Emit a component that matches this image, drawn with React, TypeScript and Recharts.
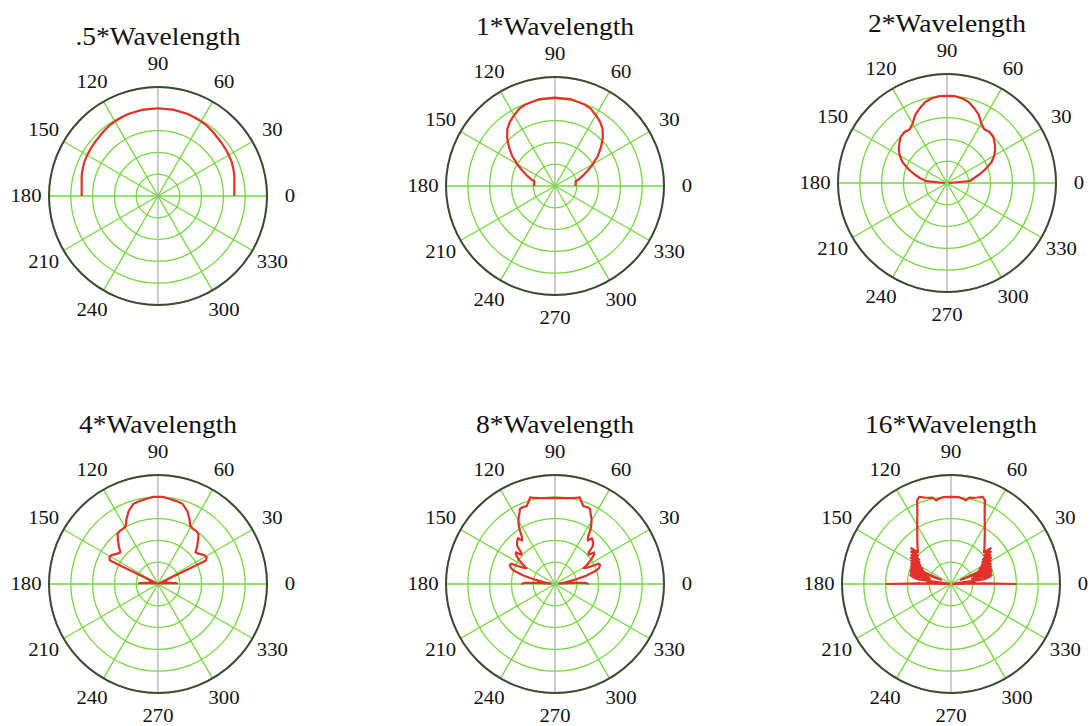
import { RadarChart, PolarGrid, PolarAngleAxis, PolarRadiusAxis, Radar } from 'recharts';

// angle ticks (degrees) and grid rings (fraction of full scale)
const angleTicks = [0, 30, 60, 90, 120, 150, 180, 210, 240, 270, 300, 330];
const gridAngles = [0, 30, 60, 120, 150, 180, 210, 240, 300, 330];
const axisAngles = [90, 270];
const radiusTicks = [0.2, 0.4, 0.6, 0.8, 1];

// [angle in degrees, relative field strength]
const wave05 = [
  [0, 0.70], [5, 0.703], [10, 0.711], [15, 0.725], [20, 0.735], [25, 0.745], [30, 0.75], [35, 0.755],
  [40, 0.76], [45, 0.765], [50, 0.775], [55, 0.785], [60, 0.79], [65, 0.795], [70, 0.8], [80, 0.805],
  [90, 0.805], [100, 0.805], [110, 0.8], [115, 0.795], [120, 0.79], [125, 0.785], [130, 0.775],
  [135, 0.765], [140, 0.76], [145, 0.755], [150, 0.75], [155, 0.745], [160, 0.735], [165, 0.725],
  [170, 0.711], [175, 0.703], [180, 0.70],
];

const wave1 = [
  [0, 0.19], [5, 0.19], [10, 0.192], [13, 0.195], [15, 0.22], [20, 0.27], [25, 0.33], [30, 0.4],
  [35, 0.48], [40, 0.55], [45, 0.62], [50, 0.68], [55, 0.72], [60, 0.75], [65, 0.78], [70, 0.795],
  [75, 0.8], [80, 0.81], [90, 0.81], [100, 0.81], [105, 0.8], [110, 0.795], [115, 0.78], [120, 0.75],
  [125, 0.72], [130, 0.68], [135, 0.62], [140, 0.55], [145, 0.48], [150, 0.4], [155, 0.33], [160, 0.27],
  [165, 0.22], [167, 0.195], [170, 0.192], [175, 0.19], [180, 0.19],
];

const wave2 = [
  [0, 0.02], [5, 0.21], [10, 0.25], [15, 0.31], [20, 0.38], [25, 0.45], [30, 0.5], [35, 0.54],
  [40, 0.57], [45, 0.6], [50, 0.61], [55, 0.6], [60, 0.63], [65, 0.69], [70, 0.73], [75, 0.77],
  [80, 0.79], [85, 0.8], [90, 0.8], [95, 0.8], [100, 0.79], [105, 0.77], [110, 0.73], [115, 0.69],
  [120, 0.63], [125, 0.6], [130, 0.61], [135, 0.6], [140, 0.57], [145, 0.54], [150, 0.5], [155, 0.45],
  [160, 0.38], [165, 0.31], [170, 0.25], [175, 0.19], [180, 0.02],
];

const wave4 = [
  [0, 0.18], [3, 0.17], [6, 0.1], [9, 0.03], [13, 0.07], [17, 0.08], [21, 0.05], [24, 0.01],
  [26, 0.49], [29, 0.51], [32, 0.5], [36, 0.47], [40, 0.45], [44, 0.5], [48, 0.55], [51, 0.59],
  [54, 0.6], [58, 0.6], [61, 0.61], [64, 0.66], [68, 0.72], [73, 0.77], [78, 0.78], [83, 0.79],
  [87, 0.8], [90, 0.8], [93, 0.8], [97, 0.79], [102, 0.78], [107, 0.77], [112, 0.72], [116, 0.66],
  [119, 0.61], [122, 0.6], [126, 0.6], [129, 0.59], [132, 0.55], [136, 0.5], [140, 0.45], [144, 0.47],
  [148, 0.5], [151, 0.51], [154, 0.49], [156, 0.01], [159, 0.05], [163, 0.08], [167, 0.07],
  [171, 0.03], [174, 0.1], [177, 0.17], [180, 0.18],
];

const wave8 = [
  [0, 0.31], [2, 0.28], [4, 0.15], [6, 0.04], [9, 0.1], [12, 0.18], [15, 0.3], [18, 0.4], [20, 0.43],
  [23, 0.45], [25, 0.44], [27, 0.33], [29, 0.3], [31, 0.34], [34, 0.4], [37, 0.45], [39, 0.46],
  [41, 0.41], [43, 0.42], [45, 0.49], [48, 0.52], [51, 0.54], [53, 0.5], [55, 0.53], [57, 0.6],
  [59, 0.65], [61, 0.69], [63, 0.72], [65, 0.76], [67, 0.765], [70, 0.76], [72, 0.79], [74, 0.826],
  [77, 0.81], [80, 0.8], [85, 0.79], [90, 0.79], [95, 0.79], [100, 0.8], [103, 0.81], [106, 0.826],
  [108, 0.79], [110, 0.76], [113, 0.765], [115, 0.76], [117, 0.72], [119, 0.69], [121, 0.65],
  [123, 0.6], [125, 0.53], [127, 0.5], [129, 0.54], [132, 0.52], [135, 0.49], [137, 0.42], [139, 0.41],
  [141, 0.46], [143, 0.45], [146, 0.4], [149, 0.34], [151, 0.3], [153, 0.33], [155, 0.44], [157, 0.45],
  [160, 0.43], [162, 0.4], [165, 0.3], [168, 0.18], [171, 0.1], [174, 0.04], [176, 0.15], [178, 0.28],
  [180, 0.31],
];

const wave16 = [
  [0, 0.6], [1, 0.3], [2, 0.02], [4, 0.22], [6, 0.03], [8, 0.3], [10, 0.35], [12, 0.38], [13.5, 0.2],
  [15, 0.38], [16.5, 0.22], [18, 0.39], [19.5, 0.25], [21, 0.39], [22.5, 0.1], [24, 0.4], [25.5, 0.28],
  [27, 0.41], [28.5, 0.3], [30, 0.42], [31.5, 0.33], [33, 0.44], [34.5, 0.35], [36, 0.45], [37.5, 0.37],
  [39, 0.47], [40.5, 0.4], [42, 0.49], [44, 0.42], [47, 0.45], [51, 0.49], [55, 0.54], [60, 0.62],
  [65, 0.73], [68, 0.83], [70, 0.85], [73, 0.83], [76, 0.815], [78, 0.81], [80, 0.78], [82, 0.79],
  [85, 0.8], [90, 0.8], [95, 0.8], [98, 0.79], [100, 0.78], [102, 0.81], [104, 0.815], [107, 0.83],
  [110, 0.85], [112, 0.83], [115, 0.73], [120, 0.62], [125, 0.54], [129, 0.49], [133, 0.45],
  [136, 0.42], [138, 0.49], [139.5, 0.4], [141, 0.47], [142.5, 0.37], [144, 0.45], [145.5, 0.35],
  [147, 0.44], [148.5, 0.33], [150, 0.42], [151.5, 0.3], [153, 0.41], [154.5, 0.28], [156, 0.4],
  [157.5, 0.1], [159, 0.39], [160.5, 0.25], [162, 0.39], [163.5, 0.22], [165, 0.38], [166.5, 0.2],
  [168, 0.38], [170, 0.35], [172, 0.3], [174, 0.03], [176, 0.22], [178, 0.02], [179, 0.3], [180, 0.6],
];

const titles = ['.5*Wavelength', '1*Wavelength', '2*Wavelength', '4*Wavelength', '8*Wavelength', '16*Wavelength'];

const plots = [
  { title: titles[0], points: wave05, x: 158, y: 196, ticks: angleTicks.filter((t) => t !== 270) },
  { title: titles[1], points: wave1, x: 555, y: 186, ticks: angleTicks },
  { title: titles[2], points: wave2, x: 947, y: 183, ticks: angleTicks },
  { title: titles[3], points: wave4, x: 158, y: 584, ticks: angleTicks },
  { title: titles[4], points: wave8, x: 555, y: 584, ticks: angleTicks },
  { title: titles[5], points: wave16, x: 951, y: 584, ticks: angleTicks },
];

const BOX_W = 360;
const BOX_H = 330;
const CX = 180;
const CY = 172;
const R = 109;
const LABEL_R = 132;
const serif = "'Liberation Serif', 'Times New Roman', serif";

function AngleTick(props: any) {
  const { payload } = props;
  const a = (payload.value * Math.PI) / 180;
  const x = CX + LABEL_R * Math.cos(a);
  const y = CY - LABEL_R * Math.sin(a);
  return (
    <text
      transform={`translate(${x},${y}) scale(1.15,1)`}
      textAnchor="middle"
      dominantBaseline="central"
      fontFamily={serif}
      fontSize={18}
      fill="#111"
    >
      {payload.value}
    </text>
  );
}

// the pattern only covers 0..180 deg, so draw it as an open trace (no closing segment)
function OpenTrace(props: any) {
  const pts = (props.points || []).filter((p: any) => Number.isFinite(p.x) && Number.isFinite(p.y));
  const d = pts.map((p: any, i: number) => `${i ? 'L' : 'M'}${p.x},${p.y}`).join('');
  return <path d={d} fill="none" stroke="#e3302b" strokeWidth={2.2} strokeLinejoin="round" />;
}

function PolarPlot({ title, points, x, y, ticks }: any) {
  const data = points.map(([deg, r]: number[]) => ({ angle: deg, level: r }));

  return (
    <div style={{ position: 'absolute', left: x - CX, top: y - CY, width: BOX_W, height: BOX_H }}>
      <div
        style={{
          position: 'absolute',
          left: 0,
          top: 0,
          width: BOX_W,
          textAlign: 'center',
          fontFamily: serif,
          fontSize: 25,
          lineHeight: '25px',
          color: '#111',
          transform: 'scaleX(1.1)',
        }}
      >
        {title}
      </div>
      <RadarChart
        width={BOX_W}
        height={BOX_H}
        data={data}
        cx={CX}
        cy={CY}
        outerRadius={R}
        startAngle={0}
        endAngle={360}
        margin={{ top: 0, right: 0, bottom: 0, left: 0 }}
      >
        <PolarGrid gridType="circle" stroke="#74d93c" strokeWidth={1.3} polarAngles={gridAngles} />
        <PolarGrid gridType="circle" stroke="#b0b0b0" strokeWidth={1.3} polarAngles={axisAngles} polarRadius={[]} />
        <PolarAngleAxis
          dataKey="angle"
          type="number"
          domain={[0, 360]}
          ticks={ticks}
          tickLine={false}
          axisLineType="circle"
          axisLine={{ stroke: '#3c4a34', strokeWidth: 2 }}
          tick={<AngleTick />}
        />
        <PolarRadiusAxis domain={[0, 1]} ticks={radiusTicks} tick={false} axisLine={false} />
        <Radar
          dataKey="level"
          stroke="#e3302b"
          fill="none"
          dot={false}
          shape={OpenTrace}
          isAnimationActive={false}
        />
      </RadarChart>
    </div>
  );
}

export default function App() {
  return (
    <div
      style={{
        position: 'absolute',
        left: 0,
        top: 0,
        width: 1092,
        height: 726,
        overflow: 'hidden',
        background: '#fff',
      }}
    >
      {plots.map((p) => (
        <PolarPlot key={p.title} {...p} />
      ))}
    </div>
  );
}
